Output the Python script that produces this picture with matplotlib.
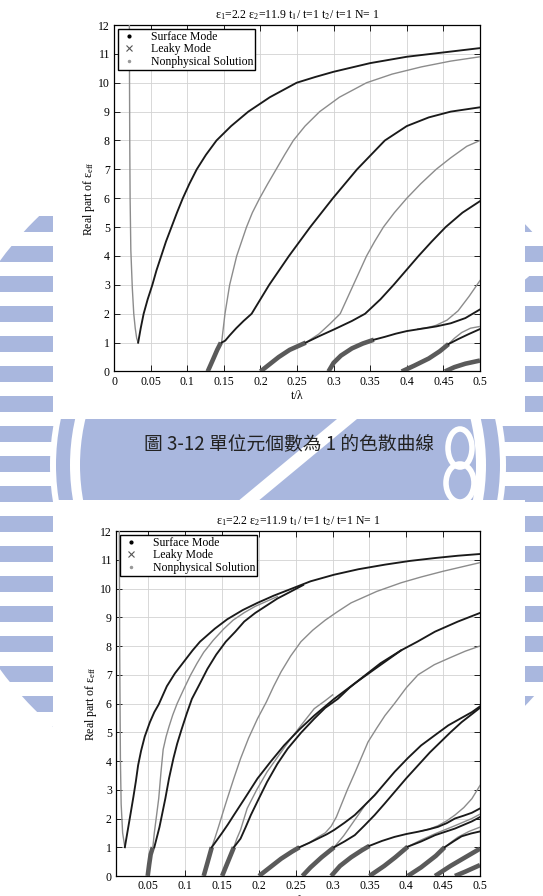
import matplotlib
matplotlib.use('Agg')
import matplotlib.pyplot as plt
from matplotlib.patches import Rectangle, Circle, Polygon, Ellipse
from matplotlib.lines import Line2D

plt.rcParams['font.family'] = ['Liberation Serif', 'DejaVu Serif']
plt.rcParams['mathtext.fontset'] = 'stix'

title = r'$\mathregular{\varepsilon_1}$=2.2 $\mathregular{\varepsilon_2}$=11.9 t$_1$/ t=1 t$_2$/ t=1 N= 1'
caption = '圖 3-12 單位元個數為 1 的色散曲線'
ylabel = r'Real part of $\mathregular{\varepsilon_{eff}}$'
xticks = [0, 0.05, 0.1, 0.15, 0.2, 0.25, 0.3, 0.35, 0.4, 0.45, 0.5]
yticks = list(range(0, 13))

# ---------------- top plot (N = 1) ----------------
top_gray1_x = [0.021, 0.0212, 0.0215, 0.022, 0.023, 0.025, 0.027, 0.029, 0.031, 0.033]
top_gray1_y = [12, 10, 8, 6, 4.2, 2.9, 2.0, 1.5, 1.15, 1.0]
top_black1_x = [0.033, 0.0365, 0.0405, 0.046, 0.0524, 0.058, 0.0645, 0.071, 0.0785, 0.086, 0.094, 0.103,
                0.113, 0.1255, 0.14, 0.16, 0.1835, 0.213, 0.2495, 0.275, 0.30, 0.35, 0.40, 0.45, 0.5]
top_black1_y = [1.0, 1.5, 2.0, 2.5, 3.0, 3.5, 4.0, 4.5, 5.0, 5.5, 6.0, 6.5,
                7.0, 7.5, 8.0, 8.5, 9.0, 9.5, 10.0, 10.2, 10.38, 10.68, 10.9, 11.05, 11.2]

top_thick1_x = [0.128, 0.135, 0.141, 0.146]
top_thick1_y = [0.0, 0.4, 0.75, 1.0]
top_gray2_x = [0.147, 0.1516, 0.158, 0.1676, 0.181, 0.189, 0.199, 0.21, 0.2215, 0.233, 0.245, 0.261,
               0.281, 0.308, 0.345, 0.38, 0.42, 0.46, 0.5]
top_gray2_y = [1.0, 2.0, 3.0, 4.0, 5.0, 5.5, 6.0, 6.5, 7.0, 7.5, 8.0, 8.5,
               9.0, 9.5, 10.0, 10.3, 10.55, 10.75, 10.9]
top_black2_x = [0.147, 0.152, 0.158, 0.167, 0.177, 0.188, 0.2, 0.212, 0.239, 0.268, 0.299, 0.332,
                0.37, 0.40, 0.43, 0.46, 0.5]
top_black2_y = [1.0, 1.07, 1.25, 1.5, 1.75, 2.0, 2.5, 3.0, 4.0, 5.0, 6.0, 7.0,
                8.0, 8.5, 8.8, 9.0, 9.15]

top_thick2_x = [0.2, 0.21, 0.225, 0.24, 0.262]
top_thick2_y = [0.0, 0.2, 0.5, 0.75, 1.0]
top_black3_x = [0.262, 0.28, 0.30, 0.325, 0.343, 0.364, 0.382, 0.399, 0.416, 0.434, 0.453, 0.476, 0.5]
top_black3_y = [1.0, 1.22, 1.45, 1.75, 2.0, 2.5, 3.0, 3.5, 4.0, 4.5, 5.0, 5.5, 5.9]
top_gray3_x = [0.262, 0.28, 0.295, 0.309, 0.318, 0.327, 0.336, 0.345, 0.356, 0.368, 0.383, 0.40,
               0.419, 0.44, 0.46, 0.482, 0.5]
top_gray3_y = [1.0, 1.3, 1.65, 2.0, 2.5, 3.0, 3.5, 4.0, 4.5, 5.0, 5.5, 6.0,
               6.5, 7.0, 7.4, 7.8, 8.0]

top_thick3_x = [0.293, 0.30, 0.31, 0.325, 0.34, 0.355]
top_thick3_y = [0.0, 0.3, 0.55, 0.8, 0.97, 1.1]
top_black4_x = [0.355, 0.37, 0.385, 0.40, 0.42, 0.44, 0.46, 0.48, 0.5]
top_black4_y = [1.1, 1.2, 1.31, 1.4, 1.48, 1.56, 1.67, 1.85, 2.15]
top_gray4_x = [0.415, 0.43, 0.44, 0.455, 0.47, 0.485, 0.5]
top_gray4_y = [1.47, 1.53, 1.6, 1.78, 2.1, 2.6, 3.15]

top_thick4_x = [0.393, 0.41, 0.43, 0.445, 0.457]
top_thick4_y = [0.0, 0.2, 0.45, 0.7, 0.95]
top_black5_x = [0.457, 0.47, 0.485, 0.5]
top_black5_y = [0.95, 1.12, 1.3, 1.47]
top_gray5_x = [0.457, 0.465, 0.475, 0.487, 0.5]
top_gray5_y = [0.95, 1.15, 1.35, 1.5, 1.56]
top_thick5_x = [0.452, 0.465, 0.48, 0.5]
top_thick5_y = [0.0, 0.15, 0.27, 0.38]

# ---------------- bottom plot ----------------
bot_grayA_x = [0.0105, 0.011, 0.0115, 0.012, 0.013, 0.015, 0.018]
bot_grayA_y = [12, 8, 6, 4, 2.5, 1.5, 1.0]
bot_blackA_x = [0.018, 0.022, 0.026, 0.0296, 0.033, 0.036, 0.04, 0.045, 0.052, 0.058, 0.064, 0.075,
                0.086, 0.098, 0.11, 0.12, 0.14, 0.157, 0.178, 0.198, 0.22, 0.24, 0.27, 0.302,
                0.335, 0.371, 0.405, 0.439, 0.47, 0.5]
bot_blackA_y = [1.0, 1.6, 2.2, 2.75, 3.3, 3.85, 4.35, 4.85, 5.35, 5.7, 5.97, 6.6,
                7.05, 7.45, 7.85, 8.15, 8.6, 8.93, 9.25, 9.5, 9.75, 9.95, 10.25, 10.48,
                10.67, 10.83, 10.96, 11.06, 11.14, 11.2]

bot_thickB_x = [0.049, 0.051, 0.053, 0.056]
bot_thickB_y = [0.0, 0.4, 0.75, 1.0]
bot_grayB_x = [0.056, 0.058, 0.06, 0.062, 0.064, 0.067, 0.07, 0.074, 0.078, 0.083, 0.089, 0.098,
               0.107, 0.116, 0.125, 0.138, 0.152, 0.165, 0.18, 0.195, 0.21, 0.225]
bot_grayB_y = [1.0, 1.5, 1.9, 2.3, 2.7, 3.6, 4.4, 4.85, 5.2, 5.6, 6.0, 6.5,
               6.98, 7.4, 7.78, 8.2, 8.59, 8.9, 9.16, 9.38, 9.55, 9.72]
bot_blackB_x = [0.058, 0.061, 0.065, 0.069, 0.073, 0.078, 0.084, 0.089, 0.095, 0.102, 0.109, 0.12,
                0.13, 0.142, 0.155, 0.168, 0.18, 0.195, 0.21, 0.225, 0.24, 0.26]
bot_blackB_y = [1.0, 1.3, 1.7, 2.2, 2.7, 3.4, 4.1, 4.6, 5.1, 5.65, 6.16, 6.7,
                7.2, 7.7, 8.15, 8.5, 8.85, 9.15, 9.4, 9.65, 9.85, 10.12]

bot_thickC_x = [0.125, 0.13, 0.136]
bot_thickC_y = [0.0, 0.45, 1.0]
bot_blackC_x = [0.136, 0.143, 0.15, 0.158, 0.166, 0.182, 0.198, 0.216, 0.234, 0.255, 0.275, 0.302,
                0.33, 0.36, 0.393, 0.415, 0.439, 0.47, 0.5]
bot_blackC_y = [1.0, 1.25, 1.5, 1.8, 2.12, 2.75, 3.39, 3.98, 4.54, 5.1, 5.58, 6.16,
                6.7, 7.25, 7.85, 8.15, 8.5, 8.85, 9.15]
bot_grayC_x = [0.136, 0.14, 0.145, 0.151, 0.157, 0.166, 0.175, 0.186, 0.198, 0.21, 0.22, 0.23,
               0.243, 0.257, 0.273, 0.29, 0.307, 0.325, 0.36, 0.393, 0.42, 0.45, 0.475, 0.5]
bot_grayC_y = [1.0, 1.3, 1.7, 2.2, 2.69, 3.4, 4.08, 4.8, 5.47, 6.05, 6.6, 7.1,
               7.65, 8.15, 8.55, 8.9, 9.2, 9.5, 9.9, 10.2, 10.4, 10.6, 10.75, 10.9]

bot_thickD_x = [0.150, 0.158, 0.166]
bot_thickD_y = [0.0, 0.5, 1.0]
bot_blackD_x = [0.166, 0.175, 0.182, 0.189, 0.2, 0.211, 0.225, 0.239, 0.257, 0.275, 0.29, 0.307,
                0.323, 0.34, 0.365, 0.393]
bot_blackD_y = [1.0, 1.3, 1.7, 2.12, 2.7, 3.27, 3.9, 4.43, 4.98, 5.47, 5.85, 6.16,
                6.55, 6.9, 7.4, 7.85]
bot_grayD_x = [0.166, 0.17, 0.175, 0.184, 0.197, 0.211, 0.227, 0.243, 0.259, 0.275, 0.29, 0.30]
bot_grayD_y = [1.0, 1.3, 1.6, 2.35, 3.0, 3.62, 4.2, 4.77, 5.3, 5.82, 6.1, 6.3]

bot_thickE_x = [0.2, 0.215, 0.23, 0.245, 0.255]
bot_thickE_y = [0.0, 0.3, 0.6, 0.85, 1.0]
bot_blackE_x = [0.255, 0.268, 0.28, 0.292, 0.302, 0.316, 0.33, 0.343, 0.357, 0.37, 0.384, 0.402,
                0.42, 0.44, 0.457, 0.475, 0.489, 0.5]
bot_blackE_y = [1.0, 1.15, 1.3, 1.45, 1.6, 1.85, 2.12, 2.45, 2.81, 3.2, 3.62, 4.1,
                4.54, 4.92, 5.24, 5.5, 5.7, 5.9]
bot_grayE_x = [0.255, 0.268, 0.28, 0.29, 0.298, 0.305, 0.311, 0.32, 0.33, 0.339, 0.348, 0.36,
               0.371, 0.384, 0.40, 0.416, 0.438, 0.46, 0.48, 0.5]
bot_grayE_y = [1.0, 1.15, 1.35, 1.5, 1.73, 2.05, 2.43, 3.0, 3.58, 4.12, 4.66, 5.15,
               5.58, 6.0, 6.55, 7.0, 7.35, 7.6, 7.82, 8.0]

bot_thickF_x = [0.259, 0.27, 0.285, 0.302]
bot_thickF_y = [0.0, 0.3, 0.65, 1.0]
bot_blackF_x = [0.302, 0.316, 0.33, 0.343, 0.357, 0.37, 0.384, 0.40, 0.416, 0.432, 0.448, 0.46,
                0.475, 0.49, 0.5]
bot_blackF_y = [1.0, 1.2, 1.42, 1.75, 2.12, 2.5, 2.92, 3.4, 3.85, 4.3, 4.7, 5.0,
                5.35, 5.65, 5.85]
bot_grayF_x = [0.302, 0.315, 0.33, 0.345, 0.36]
bot_grayF_y = [1.0, 1.4, 1.95, 2.5, 2.9]

bot_thickG_x = [0.298, 0.31, 0.325, 0.34, 0.35]
bot_thickG_y = [0.0, 0.35, 0.65, 0.9, 1.05]
bot_blackG_x = [0.35, 0.367, 0.384, 0.40, 0.416, 0.43, 0.443, 0.455, 0.466, 0.478, 0.489, 0.5]
bot_blackG_y = [1.05, 1.22, 1.36, 1.46, 1.54, 1.62, 1.71, 1.84, 2.0, 2.1, 2.2, 2.35]
bot_grayG_x = [0.42, 0.432, 0.443, 0.455, 0.466, 0.478, 0.489, 0.5]
bot_grayG_y = [1.56, 1.64, 1.75, 1.92, 2.12, 2.38, 2.69, 3.15]

bot_thickH_x = [0.35, 0.37, 0.385, 0.402]
bot_thickH_y = [0.0, 0.35, 0.65, 1.02]
bot_blackH_x = [0.402, 0.42, 0.439, 0.466, 0.489, 0.5]
bot_blackH_y = [1.02, 1.2, 1.42, 1.65, 1.9, 2.05]
bot_grayH_x = [0.402, 0.42, 0.44, 0.466, 0.489, 0.5]
bot_grayH_y = [1.02, 1.25, 1.48, 1.75, 2.0, 2.15]

bot_thickI_x = [0.402, 0.42, 0.44, 0.452]
bot_thickI_y = [0.0, 0.3, 0.7, 1.0]
bot_blackI_x = [0.452, 0.465, 0.475, 0.488, 0.5]
bot_blackI_y = [1.0, 1.22, 1.38, 1.48, 1.55]
bot_grayI_x = [0.452, 0.462, 0.47, 0.485, 0.5]
bot_grayI_y = [1.0, 1.2, 1.35, 1.55, 1.7]

bot_thickJ_x = [0.439, 0.46, 0.48, 0.5]
bot_thickJ_y = [0.0, 0.35, 0.65, 0.95]
bot_thickK_x = [0.466, 0.48, 0.5]
bot_thickK_y = [0.0, 0.15, 0.38]

top_surface = [(top_black1_x, top_black1_y), (top_black2_x, top_black2_y), (top_black3_x, top_black3_y),
               (top_black4_x, top_black4_y), (top_black5_x, top_black5_y)]
top_nonphys = [(top_gray1_x, top_gray1_y), (top_gray2_x, top_gray2_y), (top_gray3_x, top_gray3_y),
               (top_gray4_x, top_gray4_y), (top_gray5_x, top_gray5_y)]
top_leaky = [(top_thick1_x, top_thick1_y), (top_thick2_x, top_thick2_y), (top_thick3_x, top_thick3_y),
             (top_thick4_x, top_thick4_y), (top_thick5_x, top_thick5_y)]

bot_surface = [(bot_blackA_x, bot_blackA_y), (bot_blackB_x, bot_blackB_y), (bot_blackC_x, bot_blackC_y),
               (bot_blackD_x, bot_blackD_y), (bot_blackE_x, bot_blackE_y), (bot_blackF_x, bot_blackF_y),
               (bot_blackG_x, bot_blackG_y), (bot_blackH_x, bot_blackH_y), (bot_blackI_x, bot_blackI_y)]
bot_nonphys = [(bot_grayA_x, bot_grayA_y), (bot_grayB_x, bot_grayB_y), (bot_grayC_x, bot_grayC_y),
               (bot_grayD_x, bot_grayD_y), (bot_grayE_x, bot_grayE_y), (bot_grayF_x, bot_grayF_y),
               (bot_grayG_x, bot_grayG_y), (bot_grayH_x, bot_grayH_y), (bot_grayI_x, bot_grayI_y)]
bot_leaky = [(bot_thickB_x, bot_thickB_y), (bot_thickC_x, bot_thickC_y), (bot_thickD_x, bot_thickD_y),
             (bot_thickE_x, bot_thickE_y), (bot_thickF_x, bot_thickF_y), (bot_thickG_x, bot_thickG_y),
             (bot_thickH_x, bot_thickH_y), (bot_thickI_x, bot_thickI_y), (bot_thickJ_x, bot_thickJ_y),
             (bot_thickK_x, bot_thickK_y)]

W, H = 543, 896
fig = plt.figure(figsize=(W / 100, H / 100), dpi=100)

########################## watermark background ##########################
blue = '#a9b7de'
bg = fig.add_axes([0, 0, 1, 1], zorder=-10)
bg.set_xlim(0, W)
bg.set_ylim(H, 0)
bg.axis('off')
cx, cy = 278, 465
outer = Circle((cx, cy), 345, transform=bg.transData)
for y0 in range(186, 760, 30):
    r = Rectangle((0, y0), W, 16, color=blue, lw=0)
    bg.add_patch(r)
    r.set_clip_path(outer)
bg.add_patch(Circle((cx, cy), 228, color='white', lw=0))
bg.add_patch(Circle((cx, cy), 222, color=blue, lw=0))
bg.add_patch(Circle((cx, cy), 208, color='white', lw=0))
bg.add_patch(Circle((cx, cy), 198, color=blue, lw=0))
band = Polygon([(525, 263), (545, 263), (75, 653), (55, 653)], color='white', lw=0)
bg.add_patch(band)
bg.add_patch(Ellipse((460, 448), 24, 38, fill=False, ec='white', lw=4))
bg.add_patch(Ellipse((460, 483), 28, 38, fill=False, ec='white', lw=4))
# white page panels holding the plots
bg.add_patch(Rectangle((53, 0), 472, 419, color='white', lw=0))
bg.add_patch(Rectangle((53, 500), 472, H - 500, color='white', lw=0))

fig.text(289 / W, 1 - 444 / H, caption, family=['Noto Sans CJK TC', 'DejaVu Sans'],
         fontsize=13.5, ha='center', va='center', color='#222222')


def draw_panel(ax, surface, nonphys, leaky, xmin):
    for xs, ys in leaky:
        ax.plot(xs, ys, color='#5a5a5a', lw=3.3, solid_capstyle='butt', zorder=3)
    for xs, ys in nonphys:
        ax.plot(xs, ys, color='#8c8c8c', lw=1.0, zorder=4)
    for xs, ys in surface:
        ax.plot(xs, ys, color='#1a1a1a', lw=1.35, zorder=5)
    ax.set_xlim(xmin, 0.5)
    ax.set_ylim(0, 12)
    ax.set_xticks([t for t in xticks if t >= xmin])
    ax.set_xticklabels([f'{t:g}' for t in xticks if t >= xmin])
    ax.set_yticks(yticks)
    ax.grid(True, color='#d2d2d2', lw=0.6)
    ax.set_axisbelow(True)
    ax.tick_params(direction='in', length=4, width=0.6, top=True, right=True, labelsize=8.5, pad=3)
    for s in ax.spines.values():
        s.set_linewidth(0.9)
    ax.set_title(title, fontsize=8.5, pad=5)
    ax.set_ylabel(ylabel, fontsize=8.5, labelpad=1)
    ax.set_xlabel(r't/$\mathregular{\lambda}$', fontsize=8.5, labelpad=1)
    handles = [Line2D([], [], ls='none', marker='.', color='black', ms=4),
               Line2D([], [], ls='none', marker='x', color='#555555', ms=4.5, mew=0.8),
               Line2D([], [], ls='none', marker='.', color='#999999', ms=3)]
    leg = ax.legend(handles, ['Surface Mode', 'Leaky Mode', 'Nonphysical Solution'],
                    loc='upper left', fontsize=8.5, fancybox=False, framealpha=1,
                    edgecolor='black', borderaxespad=0.3, handlelength=1.5,
                    handletextpad=1.1, borderpad=0.2, labelspacing=0.05)
    leg.get_frame().set_linewidth(1.0)
    leg.set_zorder(10)


ax1 = fig.add_axes([114 / W, 1 - 371.5 / H, 366 / W, 346.5 / H])
draw_panel(ax1, top_surface, top_nonphys, top_leaky, 0.0)

ax2 = fig.add_axes([116 / W, 1 - 876 / H, 364 / W, 345 / H])
draw_panel(ax2, bot_surface, bot_nonphys, bot_leaky, 0.006)

fig.savefig('out.png', dpi=100)
